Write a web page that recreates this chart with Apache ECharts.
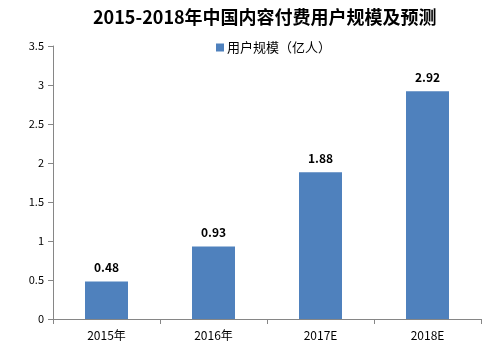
<!DOCTYPE html>
<html>
<head>
<meta charset="utf-8">
<script src="https://cdn.jsdelivr.net/npm/echarts@6/dist/echarts.min.js"></script>
<style>
  html, body { margin: 0; padding: 0; background: #fff; }
  #chart { width: 501px; height: 349px; }
</style>
</head>
<body>
<div id="chart"></div>
<script>
// Paid-content user scale in China, 2015–2018 (2017/2018 are estimates)
const categories = ['2015年', '2016年', '2017E', '2018E'];
const userScale = [0.48, 0.93, 1.88, 2.92];
const yTicks = { min: 0, max: 3.5, interval: 0.5 };
const seriesName = '用户规模（亿人）';
const titleText = '2015-2018年中国内容付费用户规模及预测';

const font = '"Noto Sans CJK SC", "Noto Sans", sans-serif';
const chart = echarts.init(document.getElementById('chart'), null, { renderer: 'canvas' });

chart.setOption({
  animation: false,
  backgroundColor: '#ffffff',
  title: {
    text: titleText,
    left: 88,
    top: 3,
    textStyle: { fontFamily: font, fontSize: 18, fontWeight: 'bold', color: '#000' }
  },
  legend: {
    data: [seriesName],
    top: 36,
    left: 211,
    itemWidth: 8,
    itemHeight: 8,
    itemGap: 4,
    icon: 'rect',
    textStyle: { fontFamily: font, fontSize: 13, color: '#000', padding: [0, 0, 0, -2] }
  },
  grid: { left: 53, right: 20, top: 46, bottom: 30, containLabel: false },
  xAxis: {
    type: 'category',
    data: categories,
    axisLine: { lineStyle: { color: '#868686', width: 1 } },
    axisTick: { show: true, alignWithLabel: false, length: 5, lineStyle: { color: '#868686' } },
    axisLabel: { fontFamily: font, fontSize: 12, color: '#000', margin: 10 }
  },
  yAxis: {
    type: 'value',
    min: yTicks.min,
    max: yTicks.max,
    interval: yTicks.interval,
    axisLine: { show: true, lineStyle: { color: '#868686', width: 1 } },
    axisTick: { show: true, length: 5, lineStyle: { color: '#868686' } },
    splitLine: { show: false },
    axisLabel: { fontFamily: font, fontSize: 11, color: '#000', margin: 9 }
  },
  series: [{
    name: seriesName,
    type: 'bar',
    data: userScale,
    barWidth: 43,
    itemStyle: { color: '#4F81BD' },
    label: {
      show: true,
      position: 'top',
      distance: 8,
      fontFamily: font,
      fontSize: 12,
      fontWeight: 'bold',
      color: '#000'
    }
  }]
});
</script>
</body>
</html>
